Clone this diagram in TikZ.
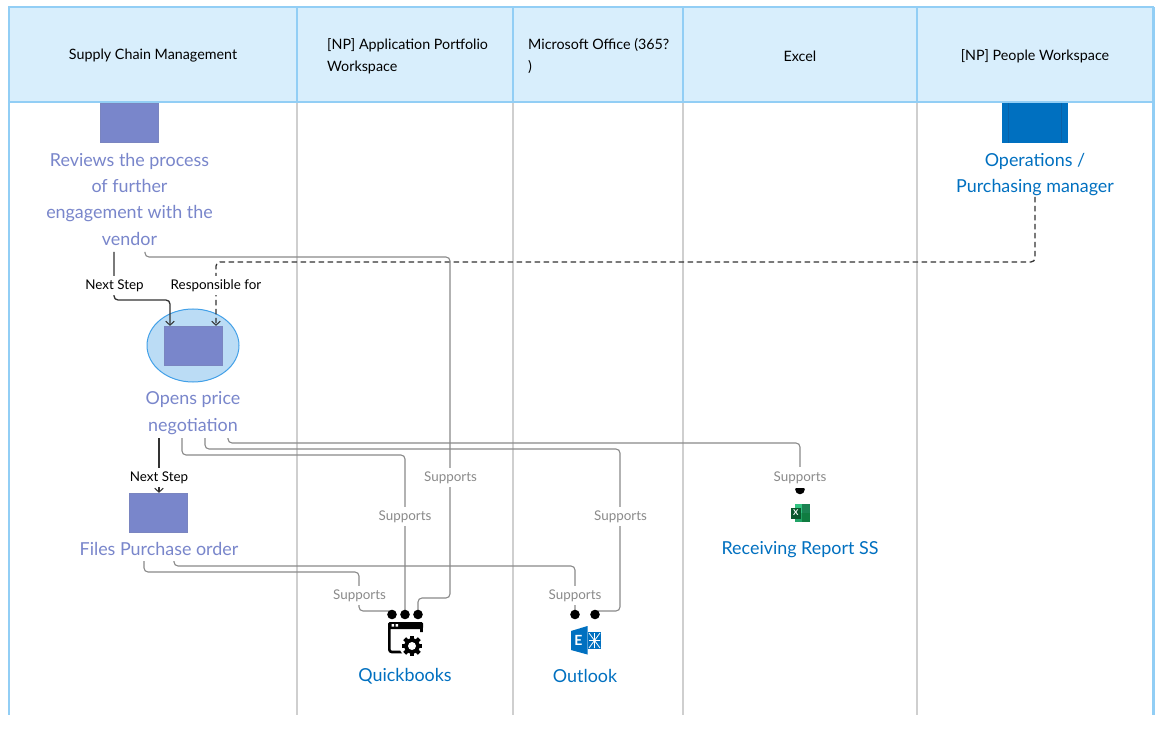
\documentclass[tikz,border=0pt]{standalone}
\usepackage{fontspec}
\setmainfont{Lato}
\usetikzlibrary{arrows.meta,shapes.geometric}
\definecolor{headfill}{HTML}{D8EEFC}
\definecolor{laneblue}{HTML}{92CEF5}
\definecolor{lanegray}{HTML}{CFCFCF}
\definecolor{taskpurple}{HTML}{7986CB}
\definecolor{roleblue}{HTML}{0070C0}
\definecolor{roledark}{HTML}{0A62A8}
\definecolor{ringfill}{HTML}{BBDCF5}
\definecolor{ringline}{HTML}{42A0E8}
\definecolor{linkgray}{HTML}{8A8A8A}
\definecolor{stepdark}{HTML}{333333}
\definecolor{xlgreen}{HTML}{107C41}
\definecolor{xllight}{HTML}{21A366}
\definecolor{xlpale}{HTML}{33C481}
\tikzset{
  headbox/.style={draw=laneblue,line width=2pt,fill=headfill},
  headtext/.style={font=\fontsize{14.3}{22.5}\selectfont,text=black,inner sep=0pt},
  lanesep/.style={draw=lanegray,line width=1.1pt},
  lanewall/.style={draw=laneblue,line width=2.6pt},
  taskbox/.style={draw=taskpurple!85!gray,line width=.7pt,fill=taskpurple,minimum width=58.5pt,minimum height=39.5pt,inner sep=0pt},
  tasklabel/.style={font=\fontsize{17.9}{26.3}\selectfont,text=taskpurple,align=center,inner sep=0pt},
  rolelabel/.style={font=\fontsize{17.9}{26.3}\selectfont,text=roleblue,align=center,inner sep=0pt},
  linktext/.style={font=\fontsize{13.4}{15}\selectfont,text=linkgray,fill=white,inner xsep=1pt,inner ysep=3pt},
  steptext/.style={font=\fontsize{13.4}{15}\selectfont,text=black,fill=white,inner xsep=1pt,inner ysep=3pt},
  support/.style={draw=linkgray,line width=1.1pt,rounded corners=4pt},
  plainstep/.style={draw=stepdark,line width=1.3pt,rounded corners=4pt},
  nextlink/.style={plainstep,-{Straight Barb[length=4pt,width=8.5pt,line width=1pt]}},
  resplink/.style={nextlink,dash pattern=on 5.5pt off 3.5pt},
  enddot/.style={circle,fill=black,minimum size=9.6pt,inner sep=0pt}
}
\begin{document}
\begin{tikzpicture}[x=1pt,y=-1pt]
\useasboundingbox (0,0) rectangle (1163,730);
\fill[white] (0,0) rectangle (1163,730);

% lanes
\foreach \x in {297,513,683,917} \draw[lanesep] (\x,102) -- (\x,715);
\draw[lanewall] (8.8,7) -- (8.8,715);
\draw[lanewall] (1153.2,7) -- (1153.2,715);
\draw[headbox] (8.8,7.5) rectangle (297,102.5);
\draw[headbox] (297,7.5) rectangle (513,102.5);
\draw[headbox] (513,7.5) rectangle (683,102.5);
\draw[headbox] (683,7.5) rectangle (917,102.5);
\draw[headbox] (917,7.5) rectangle (1153.2,102.5);
\node[headtext] (h1) at (153,56) {Supply Chain Management};
\node[headtext,align=left,anchor=west] (h2) at (327,56) {[NP] Application Portfolio\\Workspace};
\node[headtext,align=left,anchor=west] (h3) at (528,56) {Microsoft Office (365?\\)};
\node[headtext] (h4) at (800,56) {Excel};
\node[headtext] (h5) at (1035,56) {[NP] People Workspace};

% ring behind the second task
\node[ellipse,draw=ringline,fill=ringfill,line width=1pt,minimum width=92pt,minimum height=73pt,inner sep=0pt] (ring) at (193,345.5) {};

% tasks
\node[taskbox] (review) at (129.5,123) {};
\node[tasklabel] (reviewt) at (129.5,199.2) {Reviews the process\\of further\\engagement with the\\vendor};
\node[taskbox] (opens) at (193.5,346) {};
\node[tasklabel] (openst) at (193,413) {Opens price\\negotiation};
\node[taskbox] (files) at (158.5,513) {};
\node[tasklabel] (filest) at (159,548.7) {Files Purchase order};

% role
\node[draw=none,fill=roleblue,minimum width=66pt,minimum height=40pt,inner sep=0pt] (role) at (1035,123) {};
\draw[roledark,line width=.8pt] (1008,103) -- (1008,143) (1061,103) -- (1061,143);
\node[rolelabel] (rolet) at (1035,174.5) {Operations /\\Purchasing manager};

% applications
\node[rolelabel] (qbt) at (405,676) {Quickbooks};
\node[rolelabel] (olt) at (585,676) {Outlook};
\node[rolelabel] (rrt) at (800,550) {Receiving Report SS};

% connector ends
\coordinate (r1) at (114,252);
\coordinate (r2) at (145,252);
\coordinate (o1) at (159,438);
\coordinate (o2) at (182,438);
\coordinate (o3) at (205,438);
\coordinate (o4) at (228,438);
\coordinate (f1) at (144,561);
\coordinate (f2) at (174,561);
\coordinate (p1) at (1035,197);
\coordinate (a1) at (170,326);
\coordinate (a2) at (216,326);
\coordinate (q1) at (392,614.5);
\coordinate (q2) at (405,614.5);
\coordinate (q3) at (418,614.5);
\coordinate (e1) at (575,614.5);
\coordinate (e2) at (595,614.5);
\coordinate (x1) at (800,489.5);

% connectors
\draw[nextlink] (r1) -- (114,300) -- (170,300) -- (opens.north -| a1);
\draw[resplink] (p1) -- (1035,262) -- (216,262) -- (opens.north -| a2);
\draw[nextlink] (o1) -- (files.north -| o1);
\draw[support] (r2) -- (145,257) -- (450,257) -- (450,598) -- (418,598) -- (q3);
\draw[support] (o2) -- (182,455) -- (405,455) -- (q2);
\draw[support] (o3) -- (205,449) -- (620,449) -- (620,611) -- (595,611);
\draw[support] (o4) -- (228,443) -- (800,443) -- (x1);
\draw[support] (f1) -- (144,572) -- (359,572) -- (359,611) -- (392,611);
\draw[support] (f2) -- (174,566) -- (575,566) -- (e1);

% line-end dots
\node[enddot] (dq1) at (q1) {};
\node[enddot] (dq2) at (q2) {};
\node[enddot] (dq3) at (q3) {};
\node[enddot] (de1) at (e1) {};
\node[enddot] (de2) at (e2) {};
\node[enddot] (dx1) at (x1) {};

% connector labels
\node[steptext] (l1) at (114.5,285.5) {Next Step};
\node[steptext] (l2) at (216,285.5) {Responsible for};
\node[steptext] (l3) at (159,477.5) {Next Step};
\node[linktext] (l4) at (450.5,477.5) {Supports};
\node[linktext] (l5) at (405,516.5) {Supports};
\node[linktext] (l6) at (620.5,516.5) {Supports};
\node[linktext,inner ysep=4.5pt] (l7) at (800,477.5) {Supports};
\node[linktext] (l8) at (359.5,595.5) {Supports};
\node[linktext] (l9) at (575,595.5) {Supports};

% Quickbooks icon
\node[draw=none,minimum width=36pt,minimum height=33pt,inner sep=0pt] (qb) at (405,638.5) {};
\draw[black,line width=2.6pt,rounded corners=2.5pt] (421.5,632) -- (421.5,624) -- (389.3,624) -- (389.3,652) -- (404,652);
\fill[black,rounded corners=1.5pt] (388,622) rectangle (423,629);
\fill[white] (391.5,624.2) rectangle (394,626.6) (395.5,624.2) rectangle (398,626.6);
\fill[white] (412,646) circle (12.5);
\foreach \a in {0,45,...,315}
  \fill[black,rotate around={\a:(412,646)}] (409.9,635.6) rectangle (414.1,641);
\fill[black] (412,646) circle (7.8);
\fill[white] (412,646) circle (4);

% Outlook icon
\node[draw=none,minimum width=30pt,minimum height=29pt,inner sep=0pt] (ol) at (586,640.5) {};
\fill[roleblue] (588,632) rectangle (601,649);
\draw[white,line width=.8pt] (589,633) -- (600,648) (600,633) -- (589,648) (594.5,633) -- (594.5,648) (589,640.5) -- (600,640.5);
\fill[roleblue] (571,631) -- (587.5,626) -- (587.5,654.5) -- (571,650) -- cycle;
\node[font=\bfseries\fontsize{14}{14}\selectfont,text=white,inner sep=0pt] (olE) at (578.5,640) {E};

% Excel icon
\node[draw=none,minimum width=19pt,minimum height=19pt,inner sep=0pt] (xl) at (800,513) {};
\fill[xlpale] (795,504) rectangle (809.5,513);
\fill[xllight] (795,513) rectangle (809.5,522);
\fill[xlgreen] (802,513) rectangle (809.5,522);
\fill[xllight!80!black] (802,504) rectangle (809.5,513);
\fill[xlgreen!70!black] (790.5,507.5) rectangle (801,518.5);
\node[font=\bfseries\fontsize{8}{8}\selectfont,text=white,inner sep=0pt] (xlX) at (795.7,513) {X};
\end{tikzpicture}
\end{document}
